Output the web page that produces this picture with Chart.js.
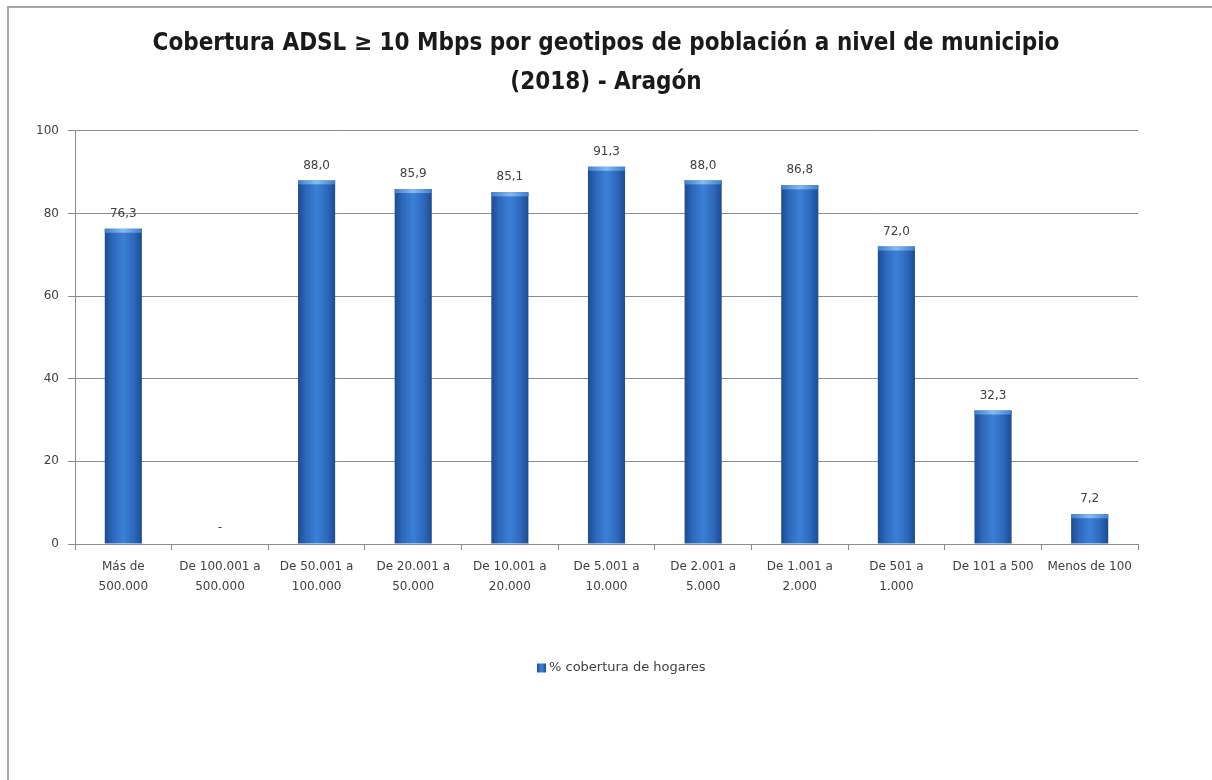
<!DOCTYPE html>
<html><head><meta charset="utf-8">
<script src="https://cdn.jsdelivr.net/npm/chart.js@4.4.1/dist/chart.umd.min.js"></script>
<style>
html,body{margin:0;padding:0;background:#fff;}
#wrap{position:absolute;left:0;top:0;width:1212px;height:780px;}
#frame{position:absolute;left:7px;top:6px;width:1205px;height:774px;border-left:2px solid #a6a6a6;border-top:2px solid #a6a6a6;box-sizing:border-box;pointer-events:none;}
</style></head>
<body>
<div id="wrap"><canvas id="c" width="1212" height="780"></canvas><div id="frame"></div></div>
<script>
const categories = [
  ["Más de","500.000"],["De 100.001 a","500.000"],["De 50.001 a","100.000"],["De 20.001 a","50.000"],
  ["De 10.001 a","20.000"],["De 5.001 a","10.000"],["De 2.001 a","5.000"],["De 1.001 a","2.000"],
  ["De 501 a","1.000"],"De 101 a 500","Menos de 100"
];
const coverage = [76.3, null, 88.0, 85.9, 85.1, 91.3, 88.0, 86.8, 72.0, 32.3, 7.2];
const yTicks = [0, 20, 40, 60, 80, 100];
const seriesName = "% cobertura de hogares";
const titleLines = ["Cobertura ADSL ≥ 10 Mbps por geotipos de población a nivel de municipio", "(2018) - Aragón"];

const TXT = "#404040";
const FONT = "'DejaVu Sans', sans-serif";
const BAR_FRACTION = 0.8 * 0.48;

function barGradient(ctx, l, w) {
  const g = ctx.createLinearGradient(l, 0, l + w, 0);
  g.addColorStop(0, '#1d4b90');
  g.addColorStop(0.22, '#2d69bd');
  g.addColorStop(0.5, '#3b80d6');
  g.addColorStop(0.78, '#2d69bd');
  g.addColorStop(1, '#1d4b90');
  return g;
}

function barFill(context) {
  const chart = context.chart;
  const xs = chart.scales.x;
  if (!xs || !chart.chartArea) return '#2d69bd';
  const cx = xs.getPixelForValue(context.dataIndex);
  const w = xs.width / categories.length * BAR_FRACTION;
  return barGradient(chart.ctx, cx - w / 2, w);
}

const barStyle = {
  id: 'barStyle',
  afterDatasetsDraw(chart) {
    const ctx = chart.ctx;
    const meta = chart.getDatasetMeta(0);
    const ys = chart.scales.y;
    ctx.save();
    meta.data.forEach((b, i) => {
      const v = coverage[i];
      if (v !== null) {
        const w = b.width, l = b.x - w/2;
        const g = ctx.createLinearGradient(l, 0, l + w, 0);
        g.addColorStop(0, '#3f7fcc');
        g.addColorStop(0.5, '#86bbf2');
        g.addColorStop(1, '#3f7fcc');
        ctx.fillStyle = g;
        ctx.fillRect(l, b.y, w, 4);
      }
      ctx.fillStyle = TXT;
      ctx.font = "12px " + FONT;
      ctx.textAlign = 'center';
      ctx.textBaseline = 'middle';
      if (v === null) {
        ctx.fillText('-', b.x, ys.getPixelForValue(0) - 16);
      } else {
        ctx.fillText(v.toFixed(1).replace('.', ','), b.x, b.y - 15);
      }
    });
    ctx.restore();
  },
  afterDraw(chart) {
    const ctx = chart.ctx;
    ctx.save();
    ctx.font = "13px " + FONT;
    const x0 = 537, cy = 668;
    ctx.fillStyle = barGradient(ctx, x0, 9);
    ctx.fillRect(x0, cy - 4.5, 9, 9);
    ctx.fillStyle = TXT;
    ctx.textAlign = 'left';
    ctx.textBaseline = 'middle';
    ctx.fillText(seriesName, x0 + 12, cy);
    ctx.restore();
  }
};

new Chart(document.getElementById('c'), {
  type: 'bar',
  data: {
    labels: categories,
    datasets: [{
      label: seriesName,
      data: coverage,
      backgroundColor: barFill,
      borderWidth: 0,
      barPercentage: 0.8,
      categoryPercentage: 0.48
    }]
  },
  options: {
    responsive: false,
    animation: false,
    devicePixelRatio: 1,
    layout: { padding: { left: 0, right: 0, top: 25, bottom: 128 } },
    plugins: {
      legend: { display: false },
      tooltip: { enabled: false },
      title: {
        display: true,
        text: titleLines,
        color: '#1a1a1a',
        font: { family: "'Liberation Sans Narrow', 'DejaVu Sans Condensed', sans-serif", size: 24, weight: 'bold', lineHeight: 1.6 },
        padding: { top: 0, bottom: 29 }
      }
    },
    scales: {
      x: {
        grid: { display: true, drawOnChartArea: false, drawTicks: true, tickLength: 6, color: '#8c8c8c', offset: true },
        border: { display: true, color: '#8c8c8c', width: 1 },
        ticks: { color: TXT, font: { family: FONT, size: 12, lineHeight: 1.65 }, padding: 7, maxRotation: 0, autoSkip: false },
        afterFit(s) { s.height = 108; }
      },
      y: {
        min: 0, max: 100,
        afterBuildTicks(s) { s.ticks = yTicks.map(v => ({ value: v })); },
        grid: { color: '#8c8c8c', lineWidth: 1, tickLength: 7, drawTicks: true },
        border: { display: true, color: '#8c8c8c', width: 1 },
        ticks: { color: TXT, font: { family: FONT, size: 12 }, padding: 9 },
        afterFit(s) { s.width = 75; }
      },
      y2: {
        position: 'right',
        display: true,
        grid: { display: false, drawTicks: false },
        border: { display: false },
        ticks: { display: false },
        afterFit(s) { s.width = 74; }
      }
    }
  },
  plugins: [barStyle]
});
</script>
</body></html>
